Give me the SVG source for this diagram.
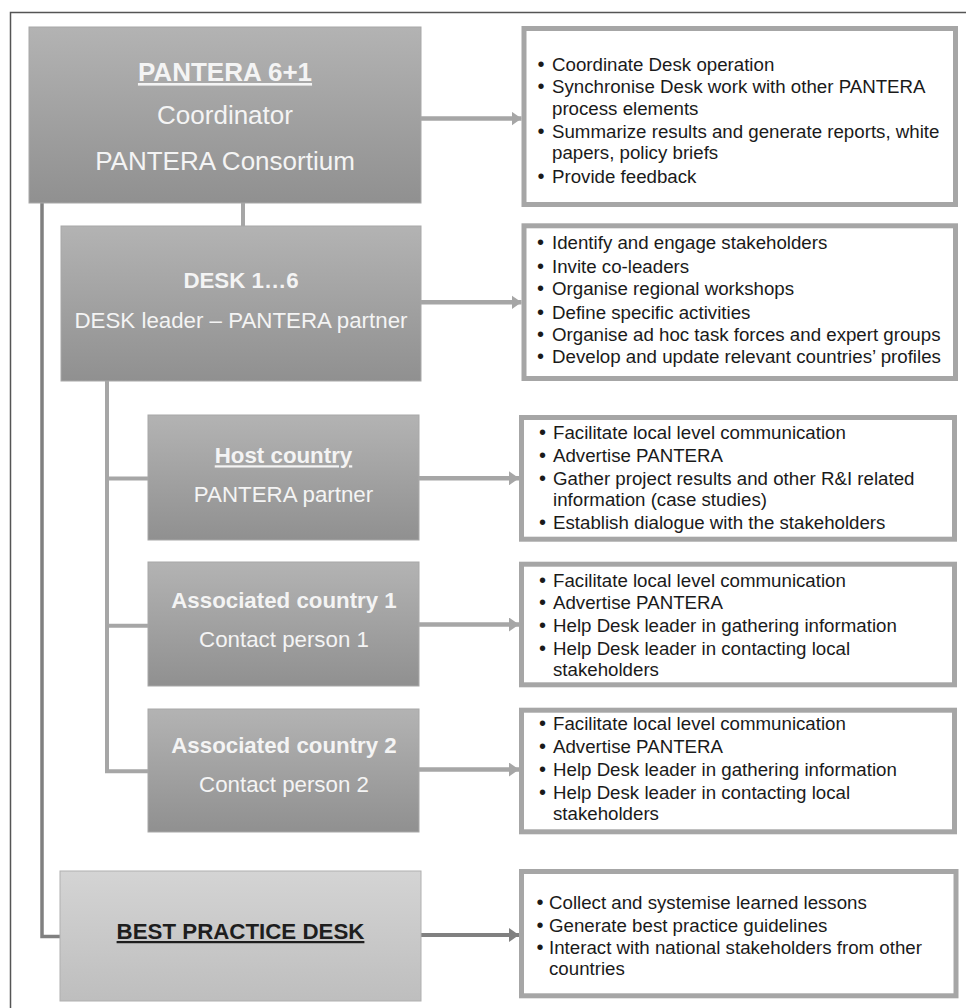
<svg xmlns="http://www.w3.org/2000/svg" width="966" height="1008" viewBox="0 0 966 1008">
<style>
.frame{fill:none;stroke:#555;stroke-width:1.5}
.node{fill:url(#gDark);stroke:#a8a8a8;stroke-width:1}
.nodeL{fill:url(#gLight);stroke:#b0b0b0;stroke-width:1}
.box{fill:#fff;stroke:#a6a6a6;stroke-width:5}
.t{font-family:"Liberation Sans",Arial,sans-serif;text-anchor:middle;fill:#f4f4f4}
.big{font-size:26px}
.mid{font-size:22.3px}
.b{font-weight:bold}
.u{text-decoration:underline}
.dk{fill:#1e1e1e}
.li{font-family:"Liberation Sans",Arial,sans-serif;font-size:18.7px;fill:#1a1a1a}
.bu{font-family:"Liberation Sans",Arial,sans-serif;font-size:20px;fill:#1a1a1a}
.c{fill:none;stroke:#a6a6a6;stroke-width:4}
.cd{fill:none;stroke:#808080;stroke-width:3.5}
.a{fill:none;stroke:#a6a6a6;stroke-width:4.5;marker-end:url(#ah)}
.ad{fill:none;stroke:#808080;stroke-width:4;marker-end:url(#ahd)}
</style>
<defs>
<linearGradient id="gDark" x1="0" y1="0" x2="0" y2="1"><stop offset="0" stop-color="#b3b3b3"/><stop offset="1" stop-color="#909090"/></linearGradient>
<linearGradient id="gLight" x1="0" y1="0" x2="0" y2="1"><stop offset="0" stop-color="#d4d4d4"/><stop offset="1" stop-color="#bebebe"/></linearGradient>
<marker id="ah" markerUnits="userSpaceOnUse" markerWidth="12" markerHeight="14" refX="10" refY="7" orient="auto"><path d="M0,0 L10,7 L0,14 Z" fill="#a6a6a6"/></marker>
<marker id="ahd" markerUnits="userSpaceOnUse" markerWidth="12" markerHeight="14" refX="10" refY="7" orient="auto"><path d="M0,0 L10,7 L0,14 Z" fill="#808080"/></marker>
</defs>
<rect class="frame" x="10.5" y="12.5" width="1000" height="1100"/>

<g id="connectors">
<polyline class="cd" points="42,203 42,936.5 60,936.5"/>
<line class="c" x1="243" y1="203" x2="243" y2="226"/>
<polyline class="c" points="107,381 107,771.3 148,771.3"/>
<line class="c" x1="107" y1="478.5" x2="148" y2="478.5"/>
<line class="c" x1="107" y1="625.8" x2="148" y2="625.8"/>
<line class="a" x1="421" y1="118.5" x2="521.5" y2="118.5"/>
<line class="a" x1="421" y1="302.3" x2="521.5" y2="302.3"/>
<line class="a" x1="419" y1="478.3" x2="519" y2="478.3"/>
<line class="a" x1="419" y1="624.5" x2="519" y2="624.5"/>
<line class="a" x1="419" y1="769.5" x2="519" y2="769.5"/>
<line class="ad" x1="421" y1="935" x2="519" y2="935"/>
</g>

<g id="coordinator">
<rect class="node" x="29" y="27" width="392" height="176"/>
<text class="t big b u" x="225" y="81">PANTERA 6+1</text>
<text class="t big" x="225" y="124">Coordinator</text>
<text class="t big" x="225" y="170">PANTERA Consortium</text>
</g>
<g id="coordinator-tasks">
<rect class="box" x="524" y="28.5" width="431.5" height="176"/>
<text class="bu" x="537.5" y="71">•</text><text class="li" x="552" y="71">Coordinate Desk operation</text>
<text class="bu" x="537.5" y="93">•</text><text class="li" x="552" y="93">Synchronise Desk work with other PANTERA</text>
<text class="li" x="552" y="114.5">process elements</text>
<text class="bu" x="537.5" y="138">•</text><text class="li" x="552" y="138">Summarize results and generate reports, white</text>
<text class="li" x="552" y="159">papers, policy briefs</text>
<text class="bu" x="537.5" y="182.5">•</text><text class="li" x="552" y="182.5">Provide feedback</text>
</g>

<g id="desk">
<rect class="node" x="61" y="226" width="360" height="155"/>
<text class="t mid b" x="241" y="288.3">DESK 1…6</text>
<text class="t mid" x="241" y="327.7">DESK leader – PANTERA partner</text>
</g>
<g id="desk-tasks">
<rect class="box" x="524" y="225.8" width="431.5" height="152.7"/>
<text class="bu" x="537" y="249.3">•</text><text class="li" x="552" y="249.3">Identify and engage stakeholders</text>
<text class="bu" x="537" y="272.7">•</text><text class="li" x="552" y="272.7">Invite co-leaders</text>
<text class="bu" x="537" y="295.3">•</text><text class="li" x="552" y="295.3">Organise regional workshops</text>
<text class="bu" x="537" y="318.7">•</text><text class="li" x="552" y="318.7">Define specific activities</text>
<text class="bu" x="537" y="341">•</text><text class="li" x="552" y="341">Organise ad hoc task forces and expert groups</text>
<text class="bu" x="537" y="363.3">•</text><text class="li" x="552" y="363.3">Develop and update relevant countries’ profiles</text>
</g>

<g id="host">
<rect class="node" x="148" y="415" width="271" height="125"/>
<text class="t mid b u" x="283.5" y="463.3">Host country</text>
<text class="t mid" x="283.5" y="501.7">PANTERA partner</text>
</g>
<g id="host-tasks">
<rect class="box" x="521.5" y="417.5" width="433" height="121.7"/>
<text class="bu" x="539" y="439.3">•</text><text class="li" x="553" y="439.3">Facilitate local level communication</text>
<text class="bu" x="539" y="461.7">•</text><text class="li" x="553" y="461.7">Advertise PANTERA</text>
<text class="bu" x="539" y="485">•</text><text class="li" x="553" y="485">Gather project results and other R&amp;I related</text>
<text class="li" x="553" y="506">information (case studies)</text>
<text class="bu" x="539" y="529.3">•</text><text class="li" x="553" y="529.3">Establish dialogue with the stakeholders</text>
</g>

<g id="assoc1">
<rect class="node" x="148" y="562" width="271" height="124"/>
<text class="t mid b" x="284" y="608.3">Associated country 1</text>
<text class="t mid" x="284" y="647.3">Contact person 1</text>
</g>
<g id="assoc1-tasks">
<rect class="box" x="521.5" y="564.2" width="433" height="120.6"/>
<text class="bu" x="539" y="586.7">•</text><text class="li" x="553" y="586.7">Facilitate local level communication</text>
<text class="bu" x="539" y="609.3">•</text><text class="li" x="553" y="609.3">Advertise PANTERA</text>
<text class="bu" x="539" y="631.7">•</text><text class="li" x="553" y="631.7">Help Desk leader in gathering information</text>
<text class="bu" x="539" y="655">•</text><text class="li" x="553" y="655">Help Desk leader in contacting local</text>
<text class="li" x="553" y="676">stakeholders</text>
</g>

<g id="assoc2">
<rect class="node" x="148" y="709" width="271" height="123"/>
<text class="t mid b" x="284" y="753.3">Associated country 2</text>
<text class="t mid" x="284" y="792.3">Contact person 2</text>
</g>
<g id="assoc2-tasks">
<rect class="box" x="521.5" y="710.2" width="433" height="121.6"/>
<text class="bu" x="539" y="730.3">•</text><text class="li" x="553" y="730.3">Facilitate local level communication</text>
<text class="bu" x="539" y="752.7">•</text><text class="li" x="553" y="752.7">Advertise PANTERA</text>
<text class="bu" x="539" y="776">•</text><text class="li" x="553" y="776">Help Desk leader in gathering information</text>
<text class="bu" x="539" y="798.7">•</text><text class="li" x="553" y="798.7">Help Desk leader in contacting local</text>
<text class="li" x="553" y="820">stakeholders</text>
</g>

<g id="best-practice">
<rect class="nodeL" x="60" y="871" width="361" height="130"/>
<text class="t mid b u dk" x="240.5" y="939">BEST PRACTICE DESK</text>
</g>
<g id="best-practice-tasks">
<rect class="box" x="521.5" y="871.5" width="434.5" height="124.3"/>
<text class="bu" x="536.5" y="908.7">•</text><text class="li" x="549" y="908.7">Collect and systemise learned lessons</text>
<text class="bu" x="536.5" y="931.7">•</text><text class="li" x="549" y="931.7">Generate best practice guidelines</text>
<text class="bu" x="536.5" y="954.3">•</text><text class="li" x="549" y="954.3">Interact with national stakeholders from other</text>
<text class="li" x="549" y="975.3">countries</text>
</g>
</svg>
